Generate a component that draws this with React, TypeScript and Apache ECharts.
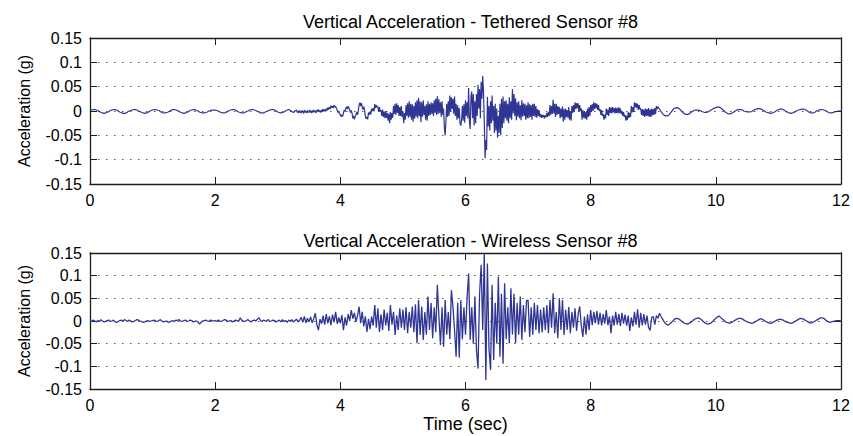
import React, { useEffect, useRef } from "react";
import * as echarts from "echarts";

// ---- Tethered sensor #8 (vertical acceleration, milli-g) ----
// quiet lead-in, 0 s .. 3.275 s, every 0.025 s
const TETHER_LEAD_START = 0;
const TETHER_LEAD_DT = 0.025;
const tetheredLeadMg: number[] = [
  1, 2, 3, 3, 2, 1, -1, -3, -4, -5, -4, -3, -1, 1, 2, 3, 3, 2, 0, -2, -3, -5, -5, -4, -2, 0, 1, 2, 3, 3, 2, 0, -1, -3, -4, -5, -4, -3, -1, 1,
  2, 3, 3, 2, 1, -1, -3, -4, -4, -3, -2, 0, 2, 3, 3, 2, 1, -1, -3, -4, -5, -4, -3, -1, 1, 2, 3, 3, 1, 0, -2, -3, -4, -4, -3, -2, 0, 1, 2, 2,
  2, 1, 0, -2, -3, -4, -4, -3, -1, 1, 2, 3, 3, 2, 0, -2, -3, -4, -4, -3, -1, 0, 2, 3, 3, 2, 1, -1, -2, -4, -4, -4, -2, -1, 1, 2, 3, 3, 2, 0,
  -2, -3, -4, -3, -2, 0, 2, 3, 1, -1, -3, 0,
];
// strong-motion part, 3.3 s .. 9.0875 s, every 0.0125 s (one row = 0.25 s)
const TETHER_ACTIVE_START = 3.3;
const TETHER_ACTIVE_DT = 0.0125;
const tetheredActiveMg: number[] = [
  2, -3, 0, -4, 1, -2, -4, 1, -1, -5, 2, -3, 0, -4, 1, -2, -3, 2, -1, -4,
  1, -3, 2, -2, 0, -4, 2, -1, 3, -2, 1, -3, 2, -1, 4, 0, 3, -1, 5, 1,
  7, 3, 8, 4, 11, 7, 10, 6, 12, 8, 10, 5, 2, -3, -1, -6, -7, -12, -8, -11,
  -4, 2, -1, 5, 9, 4, 10, 6, 2, -3, 1, -5, -15, -10, -17, -11, -7, -2, -8, 1,
  12, 17, 10, 16, 8, 3, 9, 2, -11, -16, -12, -17, -3, -8, -2, -7, 5, 0, 6, -1,
  14, 6, 12, 8, 9, -2, 8, -1, 2, -10, 3, -12, -1, -15, 0, -14, -4, -20, -6, -25,
  -2, -18, -4, -14, 10, -6, 15, -8, 16, -4, 12, -10, 8, -10, 10, -12, -2, -25, -4, -18,
  12, -10, 16, -14, 20, -12, 15, -18, 14, -22, 10, -16, 18, -12, 22, -15, 27, -10, 20, -23,
  18, -12, 22, -8, 10, -18, 14, -20, 20, -10, 15, -8, 18, -6, 16, -10, 22, -4, 25, -8,
  30, -6, 24, -4, 18, -12, 20, -8, 5, -35, -50, -20, 15, -12, 20, -10, 32, -2, 28, 4,
  25, -6, 30, -10, 15, -18, 12, -15, 6, -25, -30, -18, 10, -20, 14, -24, 22, -10, 18, -15,
  47, -20, -37, 30, 40, -15, 35, -30, 20, -25, 35, -10, 54, 5, 45, -15, 60, 25, 72, 40,
  -20, -97, -60, -80, 29, -32, 10, -40, 20, -25, 32, -20, 10, -45, 15, -40, 5, -55, -10, -45,
  15, -50, 25, -35, 30, -25, 20, -15, 22, -20, 15, -25, 28, -15, 20, -18, 45, -5, 35, -10,
  26, -19, 18, -12, 20, -15, 12, -19, 22, -12, 16, -10, 15, -18, 12, -15, 18, -15, 14, -12,
  12, -18, 15, -10, 15, -12, 10, -14, 4, -10, 2, -12, -6, -14, -8, -13, -8, -15, -9, -13,
  -4, -12, -2, -10, 12, -8, 10, -6, 23, -5, 15, -12, 15, -8, 10, -6, 8, -15, 5, -12,
  9, -22, 4, -18, 5, -12, 2, -15, 8, -18, 0, -20, 10, -4, 12, -2, 18, 4, 16, 6,
  16, -2, 12, 0, 5, -18, 2, -14, 0, -16, -2, -18, 5, -12, 8, -10, 12, -2, 14, 0,
  18, 4, 16, 6, 15, 2, 12, 0, 4, -8, 2, -10, -6, -18, -8, -15, 5, -8, 3, -10,
  8, -4, 7, -5, 8, -3, 6, -5, 7, -4, 6, -5, 8, -4, 5, -6, 0, -10, -2, -12,
  -8, -20, -10, -18, -2, -14, -4, -12, 10, -3, 8, -2, 18, 8, 16, 6, 15, 2, 12, 4,
  5, -8, 4, -10, 3, -12, 5, -10, 4, -10, 6, -12, 3, -12, 5, -9, 4, -8, 6, -6,
  10, 4, 9, 6,
];
// free-vibration tail, 9.1 s .. 12 s, every 0.025 s
const TETHER_TAIL_START = 9.1;
const TETHER_TAIL_DT = 0.025;
const tetheredTailMg: number[] = [
  4, -1, -6, -9, -10, -10, -8, -4, 0, 4, 6, 7, 6, 4, 0, -3, -6, -7, -7, -6, -3, -1, 1, 2, 2, 2, 1, -1, -2, -3, -3, -2, 0, 2, 4, 6,
  7, 8, 8, 7, 4, 1, -2, -4, -6, -6, -5, -3, -1, 1, 3, 3, 3, 2, 0, -1, -2, -2, -2, -1, 1, 3, 4, 5, 5, 4, 2, 0, -2, -3, -4, -5, -4, -3, -1, 1,
  3, 4, 4, 3, 1, -1, -3, -4, -5, -4, -3, -1, 1, 2, 3, 4, 4, 3, 1, -1, -3, -4, -4, -3, -1, 1, 2, 3, 3, 2, 1, -1, -3, -4, -4, -3, -2, -1, 0, 0,
  0,
];

// ---- Wireless sensor #8 (vertical acceleration, milli-g), 0 .. 12 s every 0.025 s ----
const WIRELESS_DT = 0.025;
const wirelessMg: number[] = [
  1, -1, 2, 0, -2, 1, -1, 3, 0, -2, -1, 1, 2, -1, 0, 2, -2, -3, -1, 1, 2, 0, 3, 1, -1, 2, 0, -2, -1, 1, 3, 2, 0, -1, -3, -2, 0, 1, -1, 0,
  1, 2, 0, -1, 1, 3, 0, -2, -1, 0, -3, -2, 0, 1, -1, 2, 1, 3, 0, -1, 1, 2, -1, 0, 2, 1, -2, -1, 0, -2, -7, -3, 0, 1, 2, 0, -1, 2, 1, 0,
  1, -1, 2, 0, -1, 1, 3, 2, -1, 0, 1, -2, 0, 2, 1, -1, 7, 2, 0, -1, 1, 3, 0, -2, 1, 2, 0, 4, 7, 1, -1, 2, 0, 1, 3, -1, 0, 2, 1, -2,
  0, 2, -2, 3, -1, 1, -3, 2, 0, 3, -2, 1, 4, -2, 2, 8, -3, 10, -4, 6, -2, 9, -4, 5, 17, -8, -20, 4, -6, 12, -8, 15, -5, 10, -9, 14, -3, 20, -6, 8,
  -5, 13, -20, 8, -10, 15, 0, 24, 5, 18, -2, 12, 32, -5, 20, -12, 10, -24, 5, -18, 10, -10, 35, -15, 28, -24, 15, -20, 25, -10, 18, -22, 35, -8, 20, -31, 12, -20, 28, -15,
  25, -20, 30, -27, 20, -15, 32, -25, 37, -49, 46, -31, 32, -42, 20, -30, 54, -20, 40, -38, 30, -25, 80, 10, -53, 30, -57, 46, -30, 20, -40, 68, 30, -20, -79, 40, -81, 46, -40, 30,
  -30, 50, 105, -42, 30, -50, 54, -64, -105, 60, 124, -20, 150, -130, 127, -60, -108, 80, -86, 40, -50, 98, -79, 60, -94, 83, -40, 30, -49, 72, -30, 60, -49, 40, -30, 54, -42, 35, -25, 45,
  46, -35, 30, -30, 40, -20, 35, -27, 25, -25, 30, -20, 35, -27, 46, -15, 61, -27, 20, -38, 50, -20, 46, -31, 25, -20, 31, -27, 20, -15, 28, -22, 15, 32, -10, -35, 10, -30, 15, -20,
  24, -9, 20, -5, 22, -8, 18, -10, 15, -6, 24, -9, 10, -27, 12, -10, 20, -8, 16, -11, 18, -6, 14, -10, 12, -22, 8, -12, 20, -8, 26, -15, 18, -10, 15, -8, 12, -14, -21, 8,
  10, -8, 12, 6, 17, 10, 4, -2, -6, -9, -8, -5, -2, 2, 5, 6, 5, 3, 0, -3, -5, -6, -7, -5, -3, 0, 3, 5, 6, 7, 5, 2, -1, -4, -6, -7, -6, -4, -1, 3,
  6, 9, 11, 8, 5, 2, -1, -3, -4, -5, -3, -1, 1, 3, 5, 6, 6, 4, 2, 0, -2, -3, -4, -5, -4, -2, 0, 2, 4, 5, 3, 1, -1, -3, -4, -5, -4, -2, 0, 2,
  3, 4, 3, 2, 0, -2, -3, -4, -5, -4, -2, 0, 2, 4, 6, 5, 4, 2, 0, -2, -4, -4, -3, -1, 1, 3, 5, 7, 7, 6, 3, 0, -2, -3, -2, -1, 0, 1, 1, 1,
  0,
];

const xTicks = [0, 2, 4, 6, 8, 10, 12];
const yTicks = [-0.15, -0.1, -0.05, 0, 0.05, 0.1, 0.15];
const yTickLabels = ["-0.15", "-0.1", "-0.05", "0", "0.05", "0.1", "0.15"];
const panelTitles = [
  "Vertical Acceleration - Tethered Sensor #8",
  "Vertical Acceleration - Wireless Sensor #8",
];
const xAxisTitle = "Time (sec)";
const yAxisTitle = "Acceleration (g)";

const FONT = "'Liberation Sans', Arial, Helvetica, sans-serif";
const AXIS_COLOR = "#1e1e1e";
const LINE_COLOR = "#2f3594";

function toPoints(mg: number[], start: number, dt: number): [number, number][] {
  return mg.map((v, i) => [Number((start + i * dt).toFixed(4)), v / 1000]);
}

function yLabelFor(v: number): string {
  const idx = yTicks.findIndex((t) => Math.abs(t - v) < 1e-9);
  return idx >= 0 ? yTickLabels[idx] : "";
}

export default function App() {
  const ref = useRef<HTMLDivElement>(null);

  useEffect(() => {
    document.body.style.margin = "0";
    if (!ref.current) return;
    const chart = echarts.init(ref.current, undefined, { renderer: "svg" });

    const grids = [
      { left: 90, top: 38, width: 751, height: 146 },
      { left: 90, top: 253, width: 751, height: 136 },
    ];

    const xMin = xTicks[0];
    const xMax = xTicks[xTicks.length - 1];
    const xStep = xTicks[1] - xTicks[0];
    const yMin = yTicks[0];
    const yMax = yTicks[yTicks.length - 1];
    const yStep = 0.05;

    const axisLine = { show: true, onZero: false, lineStyle: { color: AXIS_COLOR, width: 1.3 } };
    const axisTick = { show: true, inside: true, length: 7, lineStyle: { color: AXIS_COLOR, width: 1 } };
    const labelStyle = { fontSize: 16, color: "#000", fontFamily: FONT };
    const bigLabelStyle = { fontSize: 18, color: "#000", fontFamily: FONT };

    const xAxes: any[] = [];
    const yAxes: any[] = [];
    grids.forEach((_, gi) => {
      xAxes.push({
        type: "value",
        gridIndex: gi,
        position: "bottom",
        min: xMin,
        max: xMax,
        interval: xStep,
        axisLine,
        axisTick,
        axisLabel: { ...labelStyle, margin: 8 },
        splitLine: { show: false },
        name: gi === 1 ? xAxisTitle : "",
        nameLocation: "middle",
        nameGap: 26,
        nameTextStyle: { ...bigLabelStyle },
      });
      xAxes.push({
        type: "value",
        gridIndex: gi,
        position: "top",
        min: xMin,
        max: xMax,
        interval: xStep,
        axisLine,
        axisTick,
        axisLabel: { show: false },
        splitLine: { show: false },
      });
      yAxes.push({
        type: "value",
        gridIndex: gi,
        position: "left",
        min: yMin,
        max: yMax,
        interval: yStep,
        axisLine,
        axisTick,
        axisLabel: { ...labelStyle, margin: 8, formatter: (v: number) => yLabelFor(v) },
        splitLine: { show: true, lineStyle: { type: [1.5, 6.5], color: "#555", width: 1 } },
        name: yAxisTitle,
        nameLocation: "middle",
        nameGap: 58,
        nameRotate: 90,
        nameTextStyle: { ...labelStyle },
      });
      yAxes.push({
        type: "value",
        gridIndex: gi,
        position: "right",
        min: yMin,
        max: yMax,
        interval: yStep,
        axisLine,
        axisTick,
        axisLabel: { show: false },
        splitLine: { show: false },
      });
    });

    const tetheredPoints = [
      ...toPoints(tetheredLeadMg, TETHER_LEAD_START, TETHER_LEAD_DT),
      ...toPoints(tetheredActiveMg, TETHER_ACTIVE_START, TETHER_ACTIVE_DT),
      ...toPoints(tetheredTailMg, TETHER_TAIL_START, TETHER_TAIL_DT),
    ];
    const wirelessPoints = toPoints(wirelessMg, 0, WIRELESS_DT);

    chart.setOption({
      animation: false,
      backgroundColor: "#fff",
      textStyle: { fontFamily: FONT },
      title: [
        {
          text: panelTitles[0],
          left: 465.5,
          top: 8,
          textAlign: "center",
          textStyle: { fontSize: 18, fontWeight: "normal", color: "#000", fontFamily: FONT },
        },
        {
          text: panelTitles[1],
          left: 465.5,
          top: 227,
          textAlign: "center",
          textStyle: { fontSize: 18, fontWeight: "normal", color: "#000", fontFamily: FONT },
        },
      ],
      grid: grids,
      xAxis: xAxes,
      yAxis: yAxes,
      series: [
        {
          type: "line",
          xAxisIndex: 0,
          yAxisIndex: 0,
          data: tetheredPoints,
          showSymbol: false,
          lineStyle: { color: LINE_COLOR, width: 1.2 },
          itemStyle: { color: LINE_COLOR },
        },
        {
          type: "line",
          xAxisIndex: 2,
          yAxisIndex: 2,
          data: wirelessPoints,
          showSymbol: false,
          lineStyle: { color: LINE_COLOR, width: 1.3 },
          itemStyle: { color: LINE_COLOR },
        },
      ],
    });

    return () => chart.dispose();
  }, []);

  return <div ref={ref} style={{ width: 853, height: 436 }} />;
}
